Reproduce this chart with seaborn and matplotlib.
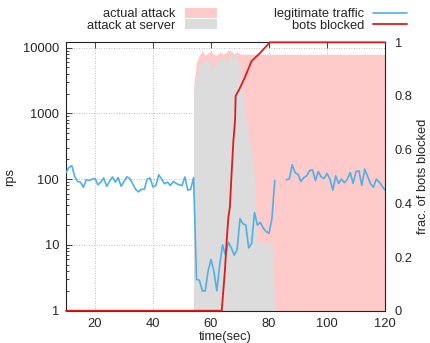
import numpy as np
import pandas as pd
import seaborn as sns
import matplotlib.pyplot as plt
from matplotlib.patches import Patch
from matplotlib.lines import Line2D

# legitimate traffic (rps), one sample per second, gap 83-85
legit_t = list(range(10, 121))
legit_rps = [125, 150, 160, 110, 92, 90, 75, 98, 95, 100,
             102, 82, 90, 104, 78, 92, 108, 90, 105, 78,
             92, 108, 102, 85, 70, 64, 70, 70, 100, 104,
             76, 80, 116, 100, 85, 90, 80, 92, 86, 82,
             80, 108, 68, 70, 106, 3.0, 2.9, 2.0, 2.0, 4.0,
             6.0, 4.0, 2.0, 5.0, 10, 7, 11, 9, 7, 8.5,
             25, 21, 20, 9, 10.5, 31, 20, 22, 18, 16,
             15, 25, 96, np.nan, np.nan, np.nan, 98, 100, 165, 125,
             118, 92, 105, 112, 135, 138, 95, 130, 108, 102,
             122, 100, 68, 112, 86, 100, 88, 100, 126, 86,
             130, 134, 80, 142, 110, 85, 75, 100, 90, 78,
             68]

# attack at server (rps)
server_t = list(range(54, 83))
server_rps = [2200, 3400, 5500, 6000, 6300, 6400, 5300, 5000, 6300, 6500,
              6800, 6500, 6300, 8500, 7500, 7000, 4500, 1800, 800, 450,
              280, 100, 11, 11, 11, 11, 11, 11, 1]

# actual attack (rps)
actual_t = [54, 55, 56, 57, 58, 59, 60, 61, 62, 63, 64, 65, 66, 67, 68,
            69, 70, 71, 72, 120]
actual_rps = [2500, 6000, 7600, 8800, 7600, 8200, 8800, 7800, 7600, 8500,
              8000, 8200, 9200, 8800, 8000, 8600, 8000, 7900, 7900, 7900]

# fraction of bots blocked
bots_t = [10, 63.7, 64.8, 65.4, 66, 66.5, 67.1, 67.7, 68.3, 68.5, 70,
          71.7, 74, 76.9, 78.6, 80.3, 120]
bots_frac = [0, 0, 0.15, 0.26, 0.35, 0.385, 0.51, 0.63, 0.71, 0.80, 0.83,
             0.87, 0.93, 0.96, 0.98, 1.0, 1.0]

pink = "#ffcaca"
grey = "#dcdcdc"
blue = "#4fb0e6"
red = "#e01b1b"

sns.set_style("white")
plt.rcParams["font.family"] = ["Liberation Sans", "DejaVu Sans"]
plt.rcParams["font.size"] = 9.3

fig = plt.figure(figsize=(4.3, 3.43), dpi=100)
ax = fig.add_axes([66/430, 1-310.7/343, 319/430, 268.4/343])

ax.fill_between(actual_t, actual_rps, 1, color=pink, lw=0, zorder=1)
ax.fill_between(server_t, server_rps, 1, color=grey, lw=0, zorder=2)

# blue line in two pieces so the gap stays
legit = pd.DataFrame({"t": legit_t, "rps": legit_rps})
legit["seg"] = legit["rps"].isna().cumsum()
legit = legit.dropna()
sns.lineplot(data=legit, x="t", y="rps", units="seg", estimator=None,
             color=blue, lw=1.2, ax=ax, zorder=3)

ax.set_yscale("log")
ax.set_xlim(10, 120)
ax.set_ylim(1, 12000)
ax.set_xticks([20, 40, 60, 80, 100, 120])
ax.set_yticks([1, 10, 100, 1000, 10000])
ax.set_yticklabels(["1", "10", "100", "1000", "10000"])
ax.grid(True, which="major", color="#aaaaaa", ls=(0, (1, 2)), lw=0.6)
ax.tick_params(which="both", direction="in", top=True, right=True,
               length=4, width=0.6, pad=5)
ax.tick_params(which="minor", length=2)
ax.set_ylabel("rps")
ax.yaxis.set_label_coords(-0.155, 0.5)
for s in ax.spines.values():
    s.set_color("#222222")
    s.set_linewidth(0.8)

# right axis: fraction of bots blocked
ax2 = ax.twinx()
bots = pd.DataFrame({"t": bots_t, "frac": bots_frac})
sns.lineplot(data=bots, x="t", y="frac", color=red, lw=1.3, ax=ax2,
             estimator=None, clip_on=False, zorder=5)
ax2.set_ylim(0, 1)
ax2.set_yticks([0, 0.2, 0.4, 0.6, 0.8, 1])
ax2.set_yticklabels(["0", "0.2", "0.4", "0.6", "0.8", "1"])
ax2.tick_params(length=0, pad=7)
ax2.set_ylabel("frac. of bots blocked")
ax2.yaxis.set_label_coords(1.1, 0.5)
for s in ax2.spines.values():
    s.set_visible(False)
ax2.set_xlim(10, 120)
ax.set_xlabel("time(sec)", labelpad=1)

# legends above the plot, gnuplot style (key after text)
h1 = [Patch(facecolor=pink, lw=0), Patch(facecolor=grey, lw=0)]
h2 = [Line2D([], [], color=blue, lw=1.2), Line2D([], [], color=red, lw=1.3)]
fig.legend(h1, ["actual attack", "attack at server"], loc="upper right",
           bbox_to_anchor=(217/430, 1-8/343), frameon=False, markerfirst=False,
           borderpad=0, borderaxespad=0, handlelength=2.5, handleheight=0.8,
           handletextpad=0.7, labelspacing=-0.1)
fig.legend(h2, ["legitimate traffic", "bots blocked"], loc="upper right",
           bbox_to_anchor=(407/430, 1-8/343), frameon=False, markerfirst=False,
           borderpad=0, borderaxespad=0, handlelength=2.6, handleheight=0.8,
           handletextpad=0.7, labelspacing=-0.1)

fig.savefig("out.png", dpi=100)
